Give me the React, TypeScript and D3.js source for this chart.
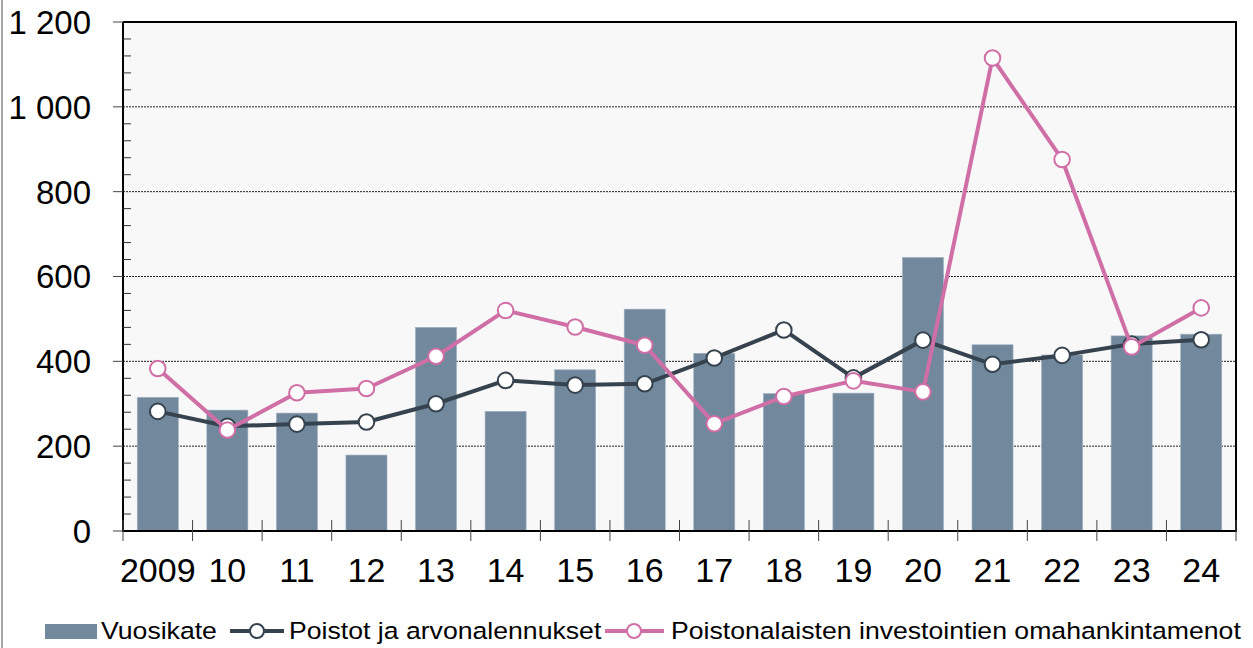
import React from "react";
import * as d3 from "d3";

const years = ["2009","10","11","12","13","14","15","16","17","18","19","20","21","22","23","24"];
const vuosikate = [315, 285, 278, 179, 480, 282, 380, 523, 419, 324, 325, 645, 439, 415, 460, 464];
const poistot = [282, 247, 252, 257, 300, 355, 344, 347, 408, 474, 361, 450, 393, 414, 441, 451];
const investoinnit = [383, 238, 326, 336, 412, 520, 481, 438, 253, 317, 354, 328, 1115, 876, 434, 526];
const yTicks = [0, 200, 400, 600, 800, 1000, 1200];
const seriesNames = ["Vuosikate", "Poistot ja arvonalennukset", "Poistonalaisten investointien omahankintamenot"];

const W = 1253, H = 648;
const m = { left: 123, right: 1236, top: 22, bottom: 531 };
const BAR = "#71889d", DARK = "#36434f", PINK = "#cf6fa6";
const FONT = "Arial, 'Liberation Sans', sans-serif";

function fmt(v: number) {
  const s = String(v);
  return s.length > 3 ? s.slice(0, s.length - 3) + " " + s.slice(-3) : s;
}

function LegendText({ x, y, children }: { x: number; y: number; children: React.ReactNode }) {
  return (
    <text transform={`translate(${x},${y}) scale(1.133,1)`} fontFamily={FONT} fontSize={23.5} fill="#000">{children}</text>
  );
}

export default function App() {
  const x = d3.scaleBand<string>().domain(years).range([m.left, m.right]).paddingInner(0.41).paddingOuter(0.205);
  const xs = d3.scaleBand<string>().domain(years).range([m.left, m.right]);
  const y = d3.scaleLinear().domain([0, 1200]).range([m.bottom, m.top]);
  const cx = (i: number) => (xs(years[i]) as number) + xs.bandwidth() / 2;
  const line = d3.line<number>().x((_, i) => cx(i)).y((d) => y(d));
  const minor = d3.range(0, 1201, 40).filter((v) => v % 200 !== 0);
  const bounds = d3.range(0, years.length + 1).map((i) => m.left + i * xs.step());

  return (
    <svg width={W} height={H} style={{ position: "absolute", left: 0, top: 0, background: "#fff" }}>
      <line x1={2} x2={2} y1={0} y2={H} stroke="#888" strokeWidth={1.5} />
      <rect x={m.left} y={m.top} width={m.right - m.left} height={m.bottom - m.top} fill="#f8f8f8" />
      {yTicks.filter((v) => v > 0 && v < 1200).map((v) => (
        <line key={"g" + v} x1={m.left} x2={m.right} y1={y(v)} y2={y(v)} stroke="#222" strokeWidth={1} strokeDasharray="2 1" />
      ))}
      {years.map((yr, i) => (
        <rect key={"b" + yr} x={x(yr)} y={y(vuosikate[i])} width={x.bandwidth()} height={m.bottom - y(vuosikate[i])} fill={BAR} stroke="#9fb0c0" strokeWidth={0.6} />
      ))}
      <line x1={m.left} x2={m.right + 1} y1={m.top} y2={m.top} stroke="#000" strokeWidth={2} />
      <line x1={m.right} x2={m.right} y1={m.top} y2={m.bottom} stroke="#000" strokeWidth={2} />
      <line x1={m.left} x2={m.left} y1={m.top} y2={m.bottom} stroke="#000" strokeWidth={2} />
      <line x1={m.left - 1} x2={m.right + 1} y1={m.bottom} y2={m.bottom} stroke="#000" strokeWidth={2} />
      {minor.map((v) => (
        <line key={"mt" + v} x1={m.left} x2={m.left + 8} y1={y(v)} y2={y(v)} stroke="#333" strokeWidth={1} />
      ))}
      {yTicks.map((v) => (
        <g key={"yt" + v}>
          <line x1={m.left - 10} x2={m.left} y1={y(v)} y2={y(v)} stroke="#444" strokeWidth={1} />
          <text x={91} y={y(v)} dy="0.36em" textAnchor="end" fontFamily={FONT} fontSize={33} fill="#000">{fmt(v)}</text>
        </g>
      ))}
      {bounds.map((bx, i) => (
        <line key={"xt" + i} x1={bx} x2={bx} y1={m.bottom - 11} y2={m.bottom + 10} stroke="#444" strokeWidth={1} />
      ))}
      {years.map((yr, i) => (
        <text key={"xl" + yr} x={cx(i)} y={582} textAnchor="middle" fontFamily={FONT} fontSize={34} fill="#000">{yr}</text>
      ))}
      <path d={line(poistot) as string} fill="none" stroke={DARK} strokeWidth={4} strokeLinejoin="round" />
      {poistot.map((v, i) => (
        <circle key={"pd" + i} cx={cx(i)} cy={y(v)} r={7.8} fill="#fff" stroke={DARK} strokeWidth={2} />
      ))}
      <path d={line(investoinnit) as string} fill="none" stroke={PINK} strokeWidth={4} strokeLinejoin="round" />
      {investoinnit.map((v, i) => (
        <circle key={"id" + i} cx={cx(i)} cy={y(v)} r={7.8} fill="#fff" stroke={PINK} strokeWidth={2} />
      ))}
      <g>
        <rect x={45} y={624} width={52} height={15} fill={BAR} />
        <LegendText x={101} y={639}>{seriesNames[0]}</LegendText>
        <line x1={230} x2={284} y1={631} y2={631} stroke={DARK} strokeWidth={4} />
        <circle cx={257} cy={631} r={7} fill="#fff" stroke={DARK} strokeWidth={2} />
        <LegendText x={289} y={639}>{seriesNames[1]}</LegendText>
        <line x1={605} x2={664} y1={631} y2={631} stroke={PINK} strokeWidth={4} />
        <circle cx={634} cy={631} r={7} fill="#fff" stroke={PINK} strokeWidth={2} />
        <LegendText x={671} y={639}>{seriesNames[2]}</LegendText>
      </g>
    </svg>
  );
}
